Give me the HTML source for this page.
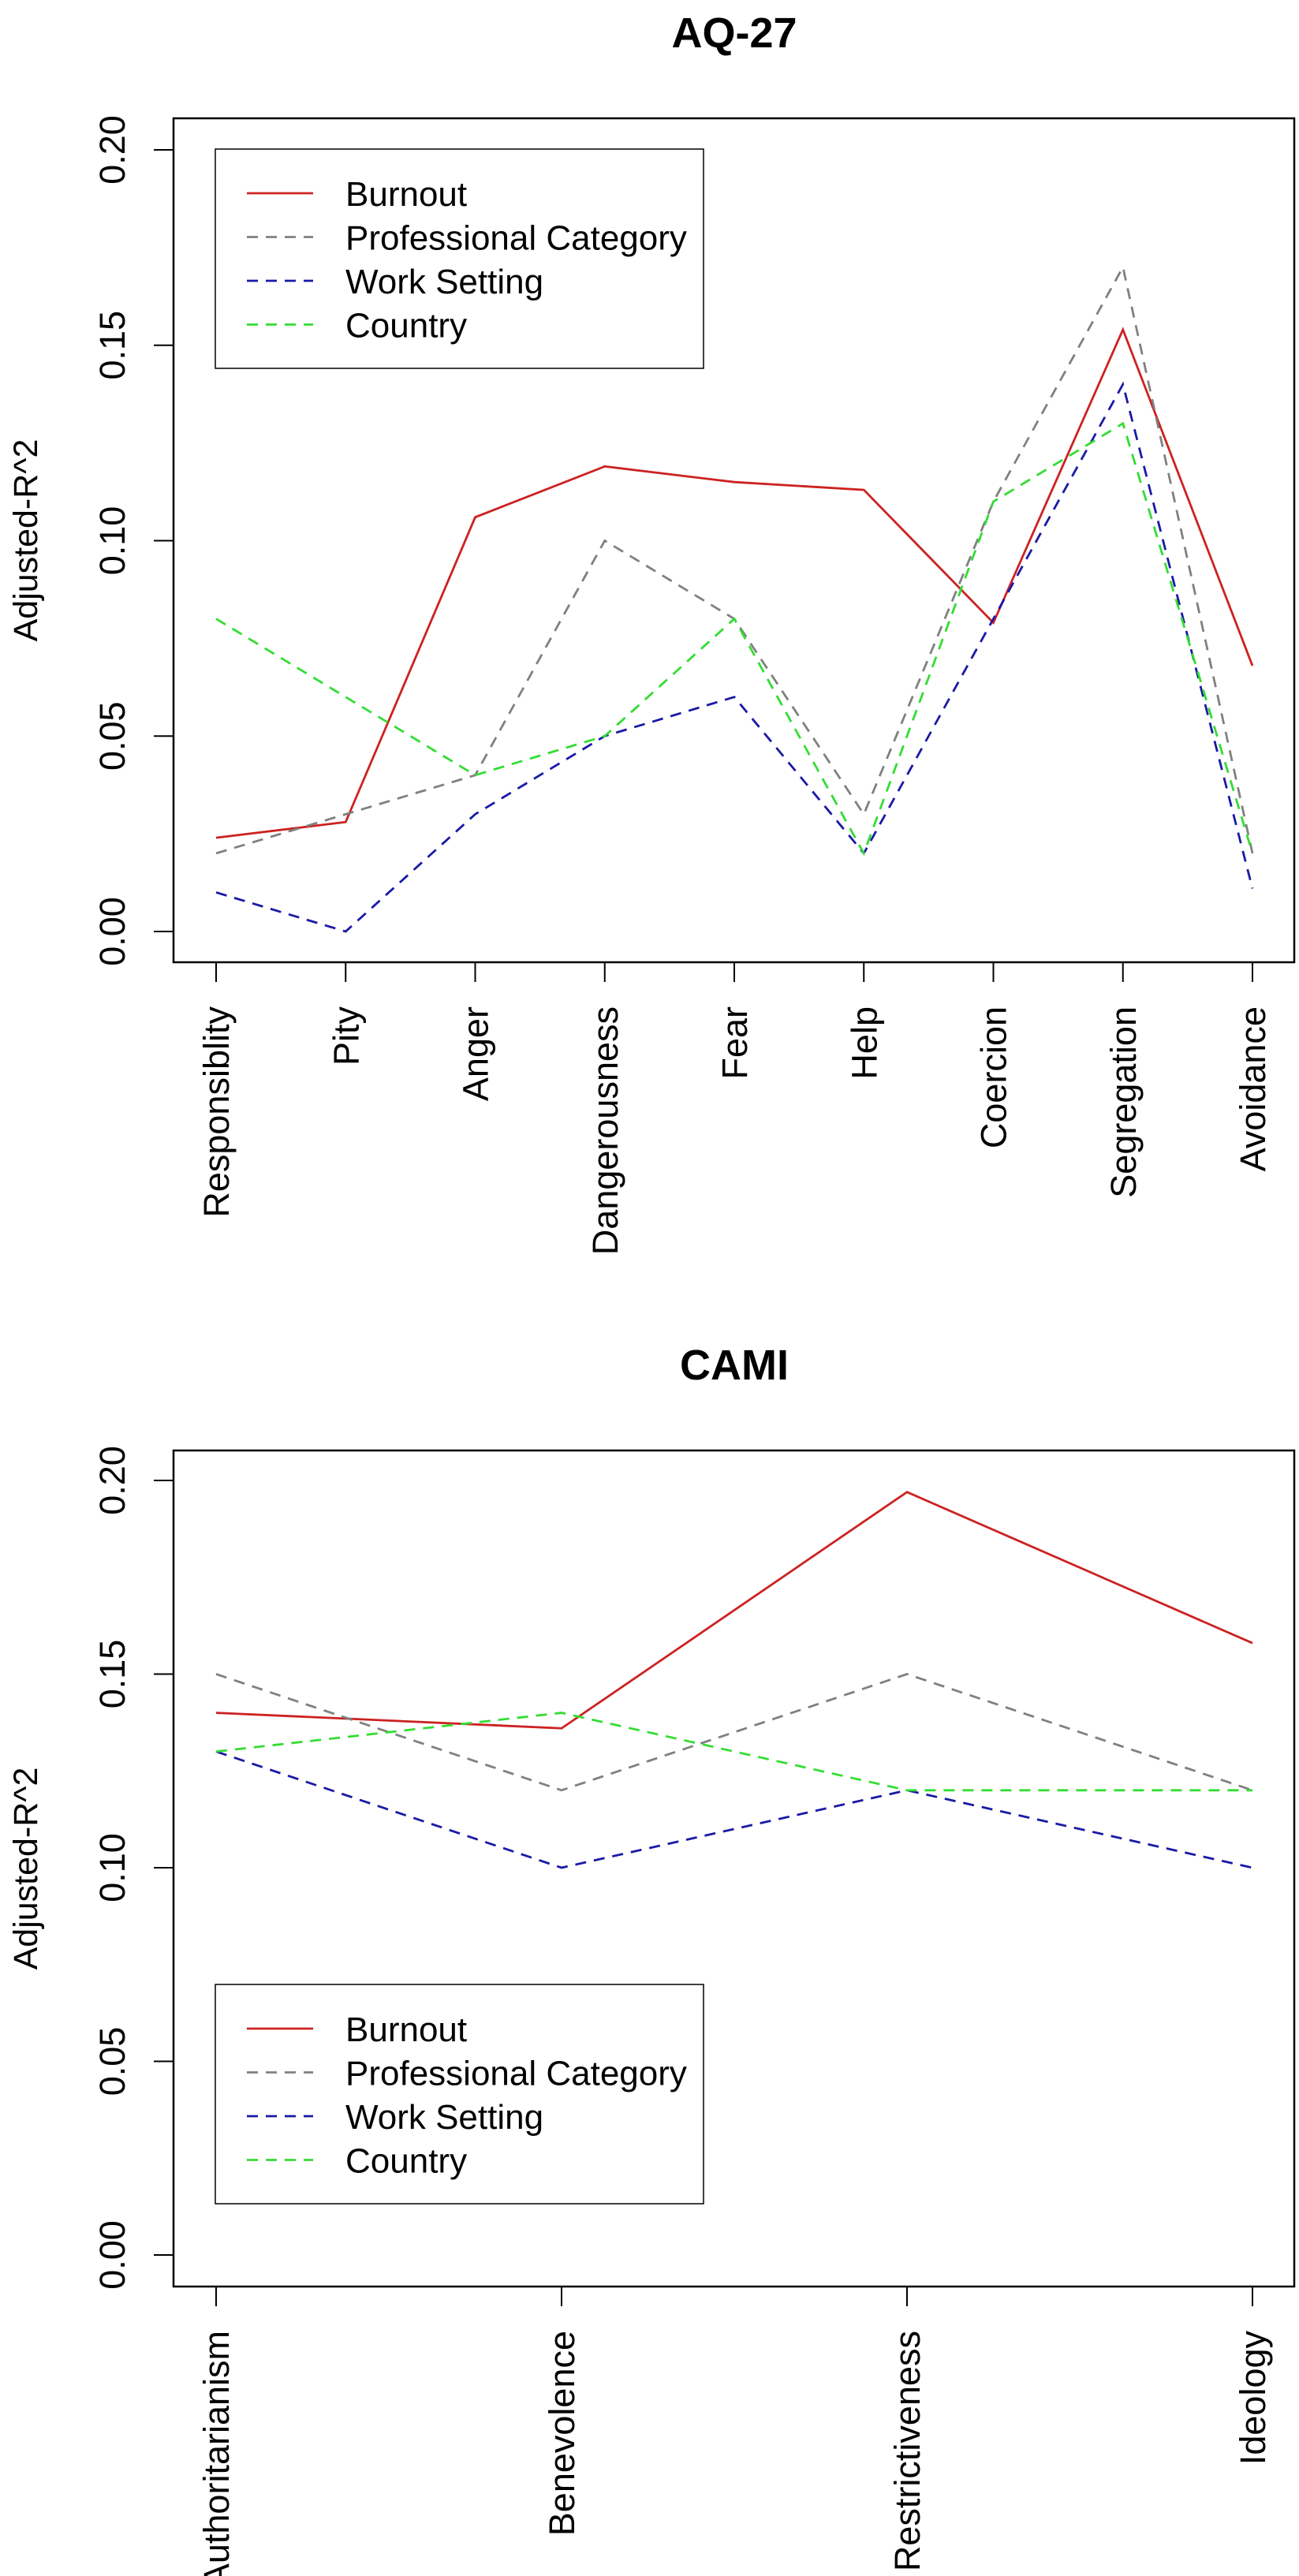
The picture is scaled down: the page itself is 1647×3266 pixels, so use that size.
<!DOCTYPE html>
<html><head><meta charset="utf-8"><style>
body{margin:0;background:#fff;}
svg{display:block;font-family:"Liberation Sans",sans-serif;}
</style></head><body>
<svg id="s" width="1647" height="3266" xmlns="http://www.w3.org/2000/svg"></svg>
<script>
const aqCats=["Responsiblity","Pity","Anger","Dangerousness","Fear","Help","Coercion","Segregation","Avoidance"];
const aqBurnout=[0.024,0.028,0.106,0.119,0.115,0.113,0.079,0.154,0.068];
const aqProf=[0.02,0.03,0.04,0.10,0.08,0.03,0.11,0.17,0.02];
const aqWork=[0.01,0.0,0.03,0.05,0.06,0.02,0.08,0.14,0.011];
const aqCountry=[0.08,0.06,0.04,0.05,0.08,0.02,0.11,0.13,0.02];
const camiCats=["Authoritarianism","Benevolence","Restrictiveness","Ideology"];
const camiBurnout=[0.14,0.136,0.197,0.158];
const camiProf=[0.15,0.12,0.15,0.12];
const camiWork=[0.13,0.10,0.12,0.10];
const camiCountry=[0.13,0.14,0.12,0.12];
const yTicks=[0,0.05,0.10,0.15,0.20];
const yTickLabels=["0.00","0.05","0.10","0.15","0.20"];
const legendNames=["Burnout","Professional Category","Work Setting","Country"];

const NS="http://www.w3.org/2000/svg";
const svg=document.getElementById('s');
function mk(t,a,p){const e=document.createElementNS(NS,t);for(const k in a)e.setAttribute(k,a[k]);(p||svg).appendChild(e);return e;}
const styles=[{c:"#cc2222",d:""},{c:"#808080",d:"14,10"},{c:"#1a1aa6",d:"14,10"},{c:"#33dd33",d:"14,10"}];

function chart(o){
  const g=mk('g',{});
  
  
  const x0=274,x1=1588,n=o.cats.length;
  const xs=i=>x0+(x1-x0)*i/(n-1);
  const ys=v=>o.y0-(o.y0-o.y20)*v/0.2;
  const t=mk('text',{x:931,y:o.titleY,'font-size':54,'font-weight':'bold','text-anchor':'middle'},g);t.textContent=o.title;
  
  const box=mk('rect',{x:220,y:o.top,width:1421,height:o.bot-o.top,fill:'none',stroke:'#000','stroke-width':2.5},g);
  
  yTicks.forEach((v,i)=>{
    mk('line',{x1:195,x2:220,y1:ys(v),y2:ys(v),stroke:'#000','stroke-width':2},g);
    const tl=mk('text',{x:0,y:0,'font-size':45,'text-anchor':'middle',transform:`translate(158,${ys(v)}) rotate(-90)`},g);
    tl.textContent=yTickLabels[i];
    
  });
  const yt=mk('text',{x:0,y:0,'font-size':43,'text-anchor':'middle',transform:`translate(47,${(o.top+o.bot)/2}) rotate(-90)`},g);
  yt.textContent="Adjusted-R^2";
  
  o.cats.forEach((c,i)=>{
    mk('line',{x1:xs(i),x2:xs(i),y1:o.bot,y2:o.bot+25,stroke:'#000','stroke-width':2},g);
    const tl=mk('text',{x:0,y:0,'font-size':45,'text-anchor':'end',transform:`translate(${xs(i)+16},${o.bot+56}) rotate(-90)`},g);
    tl.textContent=c;
    
  });
  o.series.forEach((s,k)=>{
    const p=mk('polyline',{points:s.map((v,i)=>xs(i)+','+ys(v)).join(' '),fill:'none',stroke:styles[k].c,'stroke-width':2.8,'stroke-dasharray':styles[k].d},g);
    
  });
  const lg=mk('g',{},g);
  
  mk('rect',{x:273,y:o.legTop,width:619,height:278,fill:'#fff',stroke:'#000','stroke-width':1.5},lg);
  legendNames.forEach((nm,k)=>{
    const yy=o.legTop+56+k*55.5;
    mk('line',{x1:313,x2:397,y1:yy,y2:yy,stroke:styles[k].c,'stroke-width':2.8,'stroke-dasharray':styles[k].d},lg);
    const tx=mk('text',{x:438,y:yy+16,'font-size':44},lg);tx.textContent=nm;
    
  });
}
chart({name:'aq27-chart',title:'AQ-27',titleY:60,top:150,bot:1220,y0:1181,y20:190,legTop:189,cats:aqCats,series:[aqBurnout,aqProf,aqWork,aqCountry]});
chart({name:'cami-chart',title:'CAMI',titleY:1749,top:1839,bot:2899,y0:2859,y20:1877,legTop:2516,cats:camiCats,series:[camiBurnout,camiProf,camiWork,camiCountry]});
</script>
</body></html>
